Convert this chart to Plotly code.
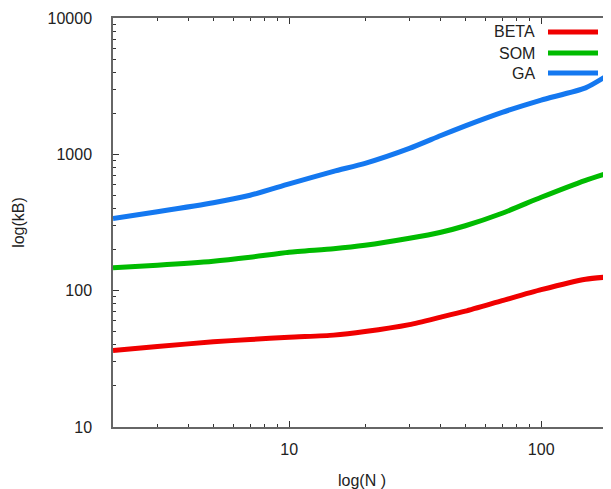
import plotly.graph_objects as go

# Data
N = [2, 3, 5, 7, 10, 15, 20, 30, 40, 50, 70, 100, 150, 190]
beta = [36.4, 38.9, 42.2, 43.8, 45.6, 47.2, 50.1, 56.4, 64.0, 70.8, 84.5, 101.7, 121.4, 126.6]
som = [147.4, 153.8, 164.5, 176.0, 191.5, 203.1, 215.4, 242.4, 268.3, 299.4, 369.7, 484.2, 645, 744]
ga = [338.6, 379.2, 441.2, 500.6, 608, 750.8, 859.3, 1106.6, 1375.5, 1617.6, 2031, 2502, 3070, 3955]

names = ["BETA", "SOM", "GA"]
colors = ["#f00000", "#00bb00", "#1478f0"]
series = [beta, som, ga]

x_ticks = [10, 100]
y_ticks = [10, 100, 1000, 10000]
x_minor = [m * 10 ** e for e in range(0, 3) for m in range(2, 10)]
y_minor = [m * 10 ** e for e in range(1, 4) for m in range(2, 10)]

FONT = "Liberation Sans, Arial"

fig = go.Figure()
for name, col, ys in zip(names, colors, series):
    fig.add_trace(go.Scatter(x=N, y=ys, mode="lines", name=name,
                             line=dict(color=col, width=5, shape="spline", smoothing=0.6)))

# custom legend (text right, line sample to the right)
leg_y = [0.9658, 0.9144, 0.8655]
for name, col, yy in zip(names, colors, leg_y):
    fig.add_annotation(x=0.8514, y=yy, xref="paper", yref="paper", text=name,
                       showarrow=False, xanchor="right", yanchor="middle",
                       font=dict(family=FONT, size=16, color="#222"))
    fig.add_shape(type="line", xref="paper", yref="paper", x0=0.8735, x1=0.9739,
                  y0=yy, y1=yy, line=dict(color=col, width=5))

axis_common = dict(showgrid=False, zeroline=False, showline=True, linecolor="#666666",
                   linewidth=1.5, ticks="inside", ticklen=6, tickcolor="#333333",
                   automargin=False,
                   tickfont=dict(family=FONT, size=16, color="#222"))

fig.update_xaxes(type="log", range=[0.30103, 2.277], tickvals=x_ticks,
                 ticktext=[str(v) for v in x_ticks], mirror="ticks",
                 minor=dict(ticks="inside", ticklen=3, tickcolor="#333333", tickvals=x_minor),
                 ticklabelstandoff=7,
                 title=dict(text="log(N )", font=dict(family=FONT, size=16, color="#222"), standoff=18),
                 **axis_common)
fig.update_yaxes(type="log", range=[1, 4], tickvals=y_ticks,
                 ticktext=[str(v) for v in y_ticks],
                 minor=dict(ticks="inside", ticklen=3, tickcolor="#333333", tickvals=y_minor),
                 ticklabelstandoff=16,
                 title=dict(text="log(kB)", font=dict(family=FONT, size=16, color="#222"), standoff=19),
                 **axis_common)

# page body has an 8px margin: figure sized so it fits the 611x489 window exactly
fig.update_layout(width=603, height=481, margin=dict(l=105, r=0, t=10, b=62),
                  plot_bgcolor="white", paper_bgcolor="white", showlegend=False,
                  font=dict(family=FONT))

fig.write_html("out.html")
